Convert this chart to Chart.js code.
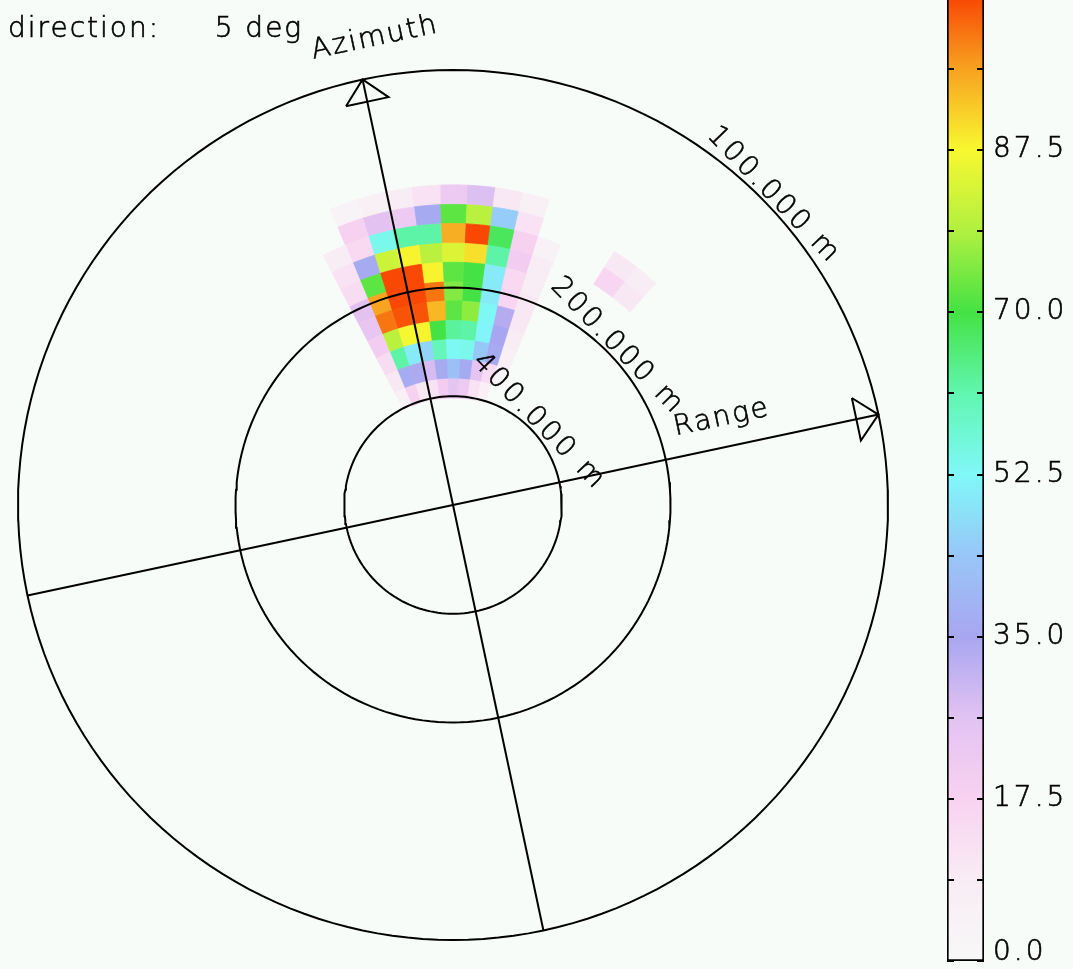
<!DOCTYPE html>
<html>
<head>
<meta charset="utf-8">
<script src="https://cdn.jsdelivr.net/npm/chart.js@4.4.1/dist/chart.umd.min.js"></script>
<style>
  html, body { margin: 0; padding: 0; background: #f8fcf8; }
  body { width: 1073px; height: 969px; position: relative; overflow: hidden; }
  #polarWrap { position: absolute; left: 0; top: 0; width: 920px; height: 969px; }
  #barWrap { position: absolute; left: 900px; top: -40px; width: 173px; height: 1020px; }
</style>
</head>
<body>
<div id="polarWrap"><canvas id="polarChart"></canvas></div>
<div id="barWrap"><canvas id="colorBar"></canvas></div>
<script>
// labelled range circles (m) -> radius is 1000 / range (1/km)
var ringRanges = [400, 200, 100];
// radial bin edges (1/km), inner -> outer
var waveBins = [2.46, 2.90, 3.35, 3.80, 4.24, 4.69, 5.13, 5.58, 6.02, 6.47, 6.91, 7.36];
// direction bin edges (deg, clockwise from the azimuth axis)
var dirBins = [-20.5, -15.5, -10.5, -5.5, -0.5, 4.5, 9.5, 14.5, 19.5, 24.5, 29.5, 34.5, 39.5, 44.5, 49.5, 54.5];
// one row per radial bin (inner first), one value per direction bin
var energy = [
  [0, 6, 18, 10, 12, 20, 25, 22, 12, 6, 0, 0, 0, 0, 0],
  [0, 10, 37, 34, 28, 36, 42, 36, 25, 14, 4, 0, 0, 0, 0],
  [0, 14, 62, 50, 46, 60, 53, 54, 44, 36, 6, 0, 0, 0, 0],
  [0, 20, 80, 87, 88, 70, 63, 62, 52, 35, 8, 0, 0, 0, 0],
  [0, 24, 100, 103, 103, 94, 72, 76, 53, 33, 10, 0, 0, 0, 0],
  [0, 26, 96, 104, 104, 100, 75, 70, 50, 16, 10, 0, 0, 0, 0],
  [0, 14, 72, 104, 104, 88, 72, 70, 50, 15, 8, 0, 0, 0, 0],
  [0, 12, 36, 82, 88, 80, 84, 90, 62, 20, 8, 0, 0, 0, 0],
  [0, 8, 15, 54, 62, 62, 95, 104, 68, 18, 5, 0, 0, 16, 10],
  [0, 0, 18, 26, 22, 36, 72, 80, 45, 12, 0, 0, 0, 10, 8],
  [0, 0, 4, 6, 8, 12, 22, 27, 10, 6, 0, 0, 0, 0, 0]
];
var barMin = 0;
var barMax = 105;
var barStep = 8.75;
var barLabelStep = 17.5;
var directionDeg = 5;

var plotTilt = 12;
var outerRadius = 1000 / ringRanges[ringRanges.length - 1];
var colorStops = [
  [0, [248, 248, 248]], [8.75, [248, 236, 244]], [17.5, [248, 210, 240]],
  [26.25, [226, 194, 242]], [35, [168, 166, 240]], [43.75, [152, 198, 248]],
  [52.5, [128, 248, 248]], [61.25, [96, 246, 176]], [70, [68, 226, 68]],
  [78.75, [176, 240, 64]], [87.5, [248, 248, 48]], [96.25, [248, 162, 32]],
  [105, [248, 60, 0]]
];
var textFont = '200 28px "DejaVu Sans"';

function colorFor(v) {
  for (var i = 1; i < colorStops.length; i++) {
    if (v <= colorStops[i][0]) {
      var a = colorStops[i - 1], b = colorStops[i];
      var t = (v - a[0]) / (b[0] - a[0]);
      var c = a[1].map(function (x, k) { return Math.round(x + (b[1][k] - x) * t); });
      return "rgb(" + c.join(",") + ")";
    }
  }
  return "rgb(" + colorStops[colorStops.length - 1][1].join(",") + ")";
}

// thin stroke font, slightly thickened
function drawText(ctx, text, x, y, spacing) {
  ctx.letterSpacing = spacing + "px";
  ctx.fillText(text, x, y);
  ctx.lineWidth = 0.6;
  ctx.strokeText(text, x, y);
}

function frameToData(u, v) {
  var t = plotTilt * Math.PI / 180;
  return { x: u * Math.cos(t) - v * Math.sin(t), y: u * Math.sin(t) + v * Math.cos(t) };
}

function polarPoint(r, phi) {
  var a = phi * Math.PI / 180;
  return frameToData(r * Math.sin(a), r * Math.cos(a));
}

function cellOutline(r0, r1, p0, p1) {
  var pts = [], n = 4, i;
  for (i = 0; i <= n; i++) pts.push(polarPoint(r1, p0 + (p1 - p0) * i / n));
  for (i = n; i >= 0; i--) pts.push(polarPoint(r0, p0 + (p1 - p0) * i / n));
  pts.push(pts[0]);
  return pts;
}

function circle(r) {
  var pts = [];
  for (var d = 0; d <= 360; d += 2) pts.push(polarPoint(r, d));
  return pts;
}

function lineSet(points, width) {
  return { type: "line", data: points, borderColor: "#000", borderWidth: width || 2, pointRadius: 0, fill: false, tension: 0, order: 0 };
}

var datasets = [];
energy.forEach(function (row, i) {
  row.forEach(function (v, j) {
    if (v <= 0) return;
    var col = colorFor(v);
    datasets.push({
      type: "line",
      data: cellOutline(waveBins[i], waveBins[i + 1], dirBins[j], dirBins[j + 1]),
      fill: "shape",
      backgroundColor: col,
      borderColor: col,
      borderWidth: 0.8,
      pointRadius: 0,
      tension: 0,
      order: 1
    });
  });
});
ringRanges.forEach(function (range) { datasets.push(lineSet(circle(1000 / range))); });
datasets.push(lineSet([polarPoint(outerRadius, 180), polarPoint(outerRadius, 0)]));
datasets.push(lineSet([polarPoint(outerRadius, 270), polarPoint(outerRadius, 90)]));
// open arrow heads at the ends of both axes
var headLen = 0.52, headHalf = 0.5;
datasets.push(lineSet([
  frameToData(-headHalf, outerRadius - headLen), frameToData(0, outerRadius),
  frameToData(headHalf, outerRadius - headLen), frameToData(-headHalf, outerRadius - headLen)
]));
datasets.push(lineSet([
  frameToData(outerRadius - headLen, headHalf), frameToData(outerRadius, 0),
  frameToData(outerRadius - headLen, -headHalf), frameToData(outerRadius - headLen, headHalf)
]));

var polarText = {
  id: "polarText",
  afterDatasetsDraw: function (chart) {
    var ctx = chart.ctx, sx = chart.scales.x, sy = chart.scales.y;
    function put(text, p, rotDeg, spacing) {
      ctx.save();
      ctx.translate(sx.getPixelForValue(p.x), sy.getPixelForValue(p.y));
      ctx.rotate(rotDeg * Math.PI / 180);
      ctx.textAlign = "center";
      ctx.textBaseline = "middle";
      drawText(ctx, text, 0, 0, spacing);
      ctx.restore();
    }
    ctx.save();
    ctx.font = textFont;
    ctx.fillStyle = "#000";
    ctx.strokeStyle = "#000";
    ringRanges.forEach(function (range) {
      put(range.toFixed(3) + " m", polarPoint(1000 / range + 0.25, 58), 58 - plotTilt, 3);
    });
    put("Azimuth", frameToData(0.48, outerRadius + 0.87), -plotTilt, 2);
    put("Range", frameToData(6.46, 0.67), -plotTilt, 2);
    ctx.textAlign = "left";
    ctx.textBaseline = "alphabetic";
    drawText(ctx, "direction:     " + directionDeg + " deg", 8, 37, 2);
    ctx.restore();
  }
};

var span = 10.345;
new Chart(document.getElementById("polarChart"), {
  type: "scatter",
  data: { datasets: datasets },
  options: {
    animation: false,
    responsive: true,
    maintainAspectRatio: false,
    layout: { padding: { left: 3, right: 17, top: 55, bottom: 14 } },
    plugins: { legend: { display: false }, tooltip: { enabled: false } },
    scales: {
      x: { type: "linear", min: -span, max: span, display: false },
      y: { type: "linear", min: -span, max: span, display: false }
    }
  },
  plugins: [polarText]
});

// inward tick marks on both edges of the bar, labels every 17.5
var barTickMarks = {
  id: "barTickMarks",
  afterDatasetsDraw: function (chart) {
    var ctx = chart.ctx, sy = chart.scales.y, area = chart.chartArea;
    ctx.save();
    ctx.strokeStyle = "#000";
    ctx.fillStyle = "#000";
    sy.ticks.forEach(function (t) {
      var y = Math.round(sy.getPixelForValue(t.value));
      ctx.lineWidth = 2;
      ctx.beginPath();
      ctx.moveTo(area.left, y); ctx.lineTo(area.left + 7, y);
      ctx.moveTo(area.right - 7, y); ctx.lineTo(area.right, y);
      ctx.stroke();
      if ((t.value / barLabelStep) % 1 === 0) {
        ctx.font = textFont;
        ctx.textAlign = "left";
        // the lowest label sits on the bar's bottom edge
        ctx.textBaseline = t.value === barMin ? "alphabetic" : "middle";
        drawText(ctx, t.value.toFixed(1), area.right + 9, t.value === barMin ? y - 1 : y, 3);
      }
    });
    ctx.restore();
  }
};

new Chart(document.getElementById("colorBar"), {
  type: "bar",
  data: {
    labels: [""],
    datasets: [{
      data: [barMax],
      backgroundColor: function (c) {
        var chart = c.chart, sy = chart.scales.y;
        if (!chart.chartArea || !sy) return "#fff";
        var g = chart.ctx.createLinearGradient(0, sy.getPixelForValue(barMin), 0, sy.getPixelForValue(barMax));
        colorStops.forEach(function (s) { g.addColorStop((s[0] - barMin) / (barMax - barMin), "rgb(" + s[1].join(",") + ")"); });
        return g;
      },
      borderColor: "#000",
      borderWidth: 2,
      borderSkipped: false,
      barPercentage: 1,
      categoryPercentage: 1
    }]
  },
  options: {
    animation: false,
    responsive: true,
    maintainAspectRatio: false,
    layout: { padding: { left: 47, right: 0, top: 28, bottom: 19 } },
    plugins: { legend: { display: false }, tooltip: { enabled: false } },
    scales: {
      x: { display: false },
      y: {
        position: "right",
        min: barMin,
        max: barMax,
        grid: { display: false, drawTicks: false },
        border: { display: false },
        ticks: { stepSize: barStep, display: false },
        afterFit: function (s) { s.width = 89; }
      }
    }
  },
  plugins: [barTickMarks]
});
</script>
</body>
</html>
